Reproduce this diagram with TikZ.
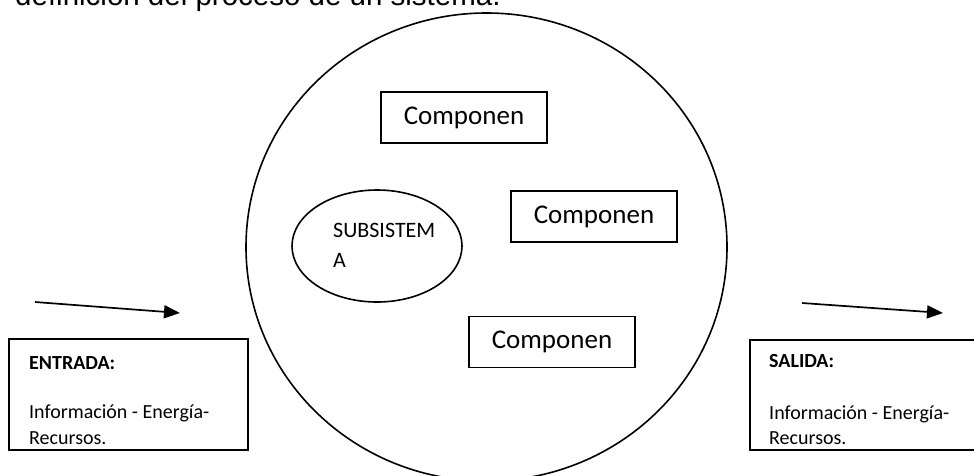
\documentclass[tikz,border=0pt]{standalone}
\usepackage{fontspec}
\setmainfont{Carlito}
\newfontfamily\headfont{Liberation Sans}
\usetikzlibrary{shapes.geometric,arrows.meta}
\begin{document}
\begin{tikzpicture}[x=1pt,y=-1pt,
  frame/.style={draw,line width=1.7pt},
  part/.style={frame,minimum width=166pt,minimum height=51pt,inner sep=0pt,
    font=\fontsize{27}{32}\selectfont},
  iobox/.style={frame,anchor=north west,inner sep=0pt},
  txt/.style={anchor=base west,inner sep=0pt,font=\fontsize{20}{24}\selectfont},
  subtxt/.style={anchor=base west,inner sep=0pt,font=\fontsize{22}{26}\selectfont},
  flow/.style={line width=1.7pt,-{Triangle[length=16pt,width=13pt]}}]
\clip (0,0) rectangle (974,475);

% heading line above the figure
\node[anchor=base west,inner sep=0pt,font=\headfont\fontsize{29.5}{34}\selectfont]
  (title) at (15,5) {definición del proceso de un sistema.};

% the system
\node[ellipse,draw,line width=1.6pt,minimum width=481pt,minimum height=468pt,inner sep=0pt]
  (sys) at (486.5,247) {};

% subsystem
\node[ellipse,draw,line width=1.6pt,minimum width=170pt,minimum height=112pt,inner sep=0pt]
  (sub) at (377,246) {};
\node[subtxt] (subA) at (333,237) {SUBSISTEM};
\node[subtxt] (subB) at (333,267) {A};

% components
\node[part] (c1) at (464,117.5) {Componen};
\node[part] (c2) at (594,216.5) {Componen};
\node[part] (c3) at (552,342) {Componen};

% input
\node[iobox,minimum width=239pt,minimum height=111pt] (in) at (8,338) {};
\begin{scope}
  \clip (in.north west) rectangle ([yshift=6pt]in.south east);
  \node[txt,font=\bfseries\fontsize{20}{24}\selectfont] (inT) at (29,369) {ENTRADA:};
  \node[txt] (inL1) at (29,418) {Información - Energía-};
  \node[txt] (inL2) at (29,444.5) {Recursos.};
\end{scope}

% output, running past the right edge
\node[iobox,minimum width=270pt,minimum height=110pt] (out) at (749,339) {};
\begin{scope}
  \clip (out.north west) rectangle ([yshift=6pt]out.south east);
  \node[txt,font=\bfseries\fontsize{20}{24}\selectfont] (outT) at (769,367) {SALIDA:};
  \node[txt] (outL1) at (769,419) {Información - Energía-};
  \node[txt] (outL2) at (769,444.5) {Recursos.};
\end{scope}

% flow arrows
\coordinate (inS) at (35,302);
\coordinate (inE) at (180,313);
\coordinate (outS) at (802,303);
\coordinate (outE) at (943,313);
\draw[flow] (inS) -- (inE);
\draw[flow] (outS) -- (outE);
\end{tikzpicture}
\end{document}
